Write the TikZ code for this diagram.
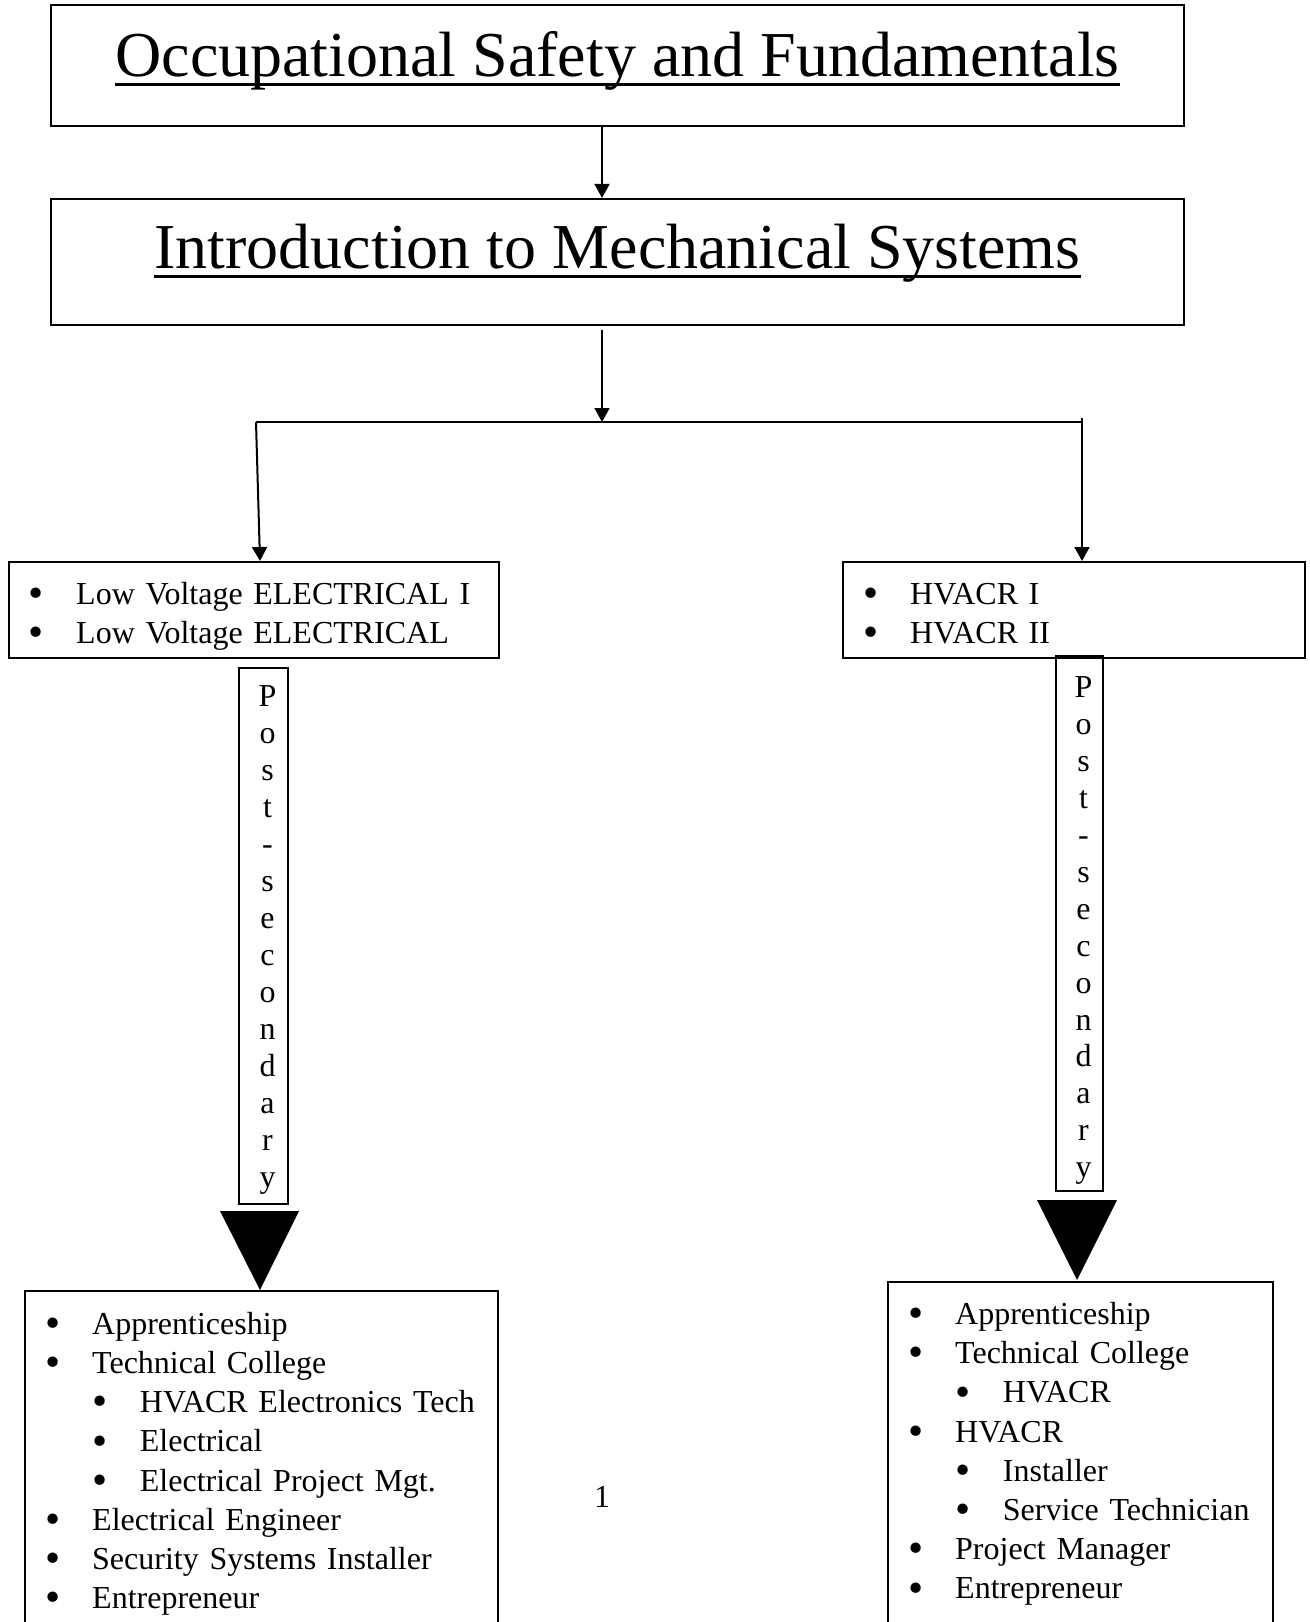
\documentclass[tikz,border=0pt]{standalone}
\usepackage{fontspec}
\setmainfont{Liberation Serif}
\usetikzlibrary{arrows.meta,positioning,calc}
\newcommand{\undrln}[1]{\setbox0\hbox{#1}\rlap{\rule[-3.4pt]{\wd0}{1pt}}\box0}
\newcommand{\bdot}{\raisebox{-1.2pt}{\scalebox{1.35}{\textbullet}}}
\newcommand{\bl}[1]{\makebox[25.2pt][l]{\hspace*{7.5pt}\bdot}#1}
\newcommand{\bll}[1]{\makebox[43.1pt][l]{\hspace*{25.3pt}\bdot}#1}
\newcommand{\vstack}[1]{\hspace*{3pt}\parbox[t]{8pt}{\centering #1}}
\tikzset{head/.style={draw, rectangle, minimum width=424.9pt, font=\fontsize{24}{28}\selectfont}}
\tikzstyle{lst}=[draw, rectangle, anchor=north west, inner sep=0pt, align=left, text height=15.9pt, font=\fontsize{12}{14.7}\selectfont]
\tikzstyle{vbar}=[draw, rectangle, inner sep=0pt, font=\fontsize{12}{13.85}\selectfont]

\begin{document}
\begin{tikzpicture}[x=0.375pt, y=-0.375pt, >={Triangle[length=5.25pt,width=5.6pt]}, line width=0.75pt, node distance=26.6pt]
\useasboundingbox (0,0) rectangle (1310,1622);
% course boxes
\node[head, minimum height=45.4pt, text height=17pt, text depth=8.4pt] (occ) at (617.5,65.5) {\undrln{Occupational Safety and Fundamentals}};
\node[head, minimum height=47.25pt, text height=17pt, text depth=12pt, below=of occ] (intro) {\undrln{Introduction to Mechanical Systems}};
\coordinate (hub) at (602,422);
\coordinate (lfork) at (256,422);
\coordinate (rfork) at (1082,418);
\node[lst, text width=183.75pt, text depth=20.1pt] (lowv) at (8,561) {\bl{Low Voltage ELECTRICAL I}\\\bl{Low Voltage ELECTRICAL}};
\node[lst, text width=173.25pt, text depth=20.1pt] (hvac) at (842,561) {\bl{HVACR I}\\\bl{HVACR II}};
% post-secondary bars
\node[vbar, minimum width=18.4pt, minimum height=201pt, text height=14.8pt, text depth=186.2pt] (ps1) at (263.5,935.5) {\vstack{P\\o\\s\\t\\-\\s\\e\\c\\o\\n\\d\\a\\r\\y}};
\node[vbar, minimum width=17.6pt, minimum height=200.6pt, text height=15.6pt, text depth=185pt] (ps2) at (1079.5,923.5) {\vstack{P\\o\\s\\t\\-\\s\\e\\c\\o\\n\\d\\a\\r\\y}};
% careers
\node[lst, text width=177.4pt, text height=16.24pt, text depth=109.8pt] (elecjobs) at (24,1290) {\bl{Apprenticeship}\\\bl{Technical College}\\\bll{HVACR Electronics Tech}\\\bll{Electrical}\\\bll{Electrical Project Mgt.}\\\bl{Electrical Engineer}\\\bl{Security Systems Installer}\\\bl{Entrepreneur}};
\node[lst, text width=144.4pt, text depth=113.5pt] (hvacjobs) at (887,1281) {\bl{Apprenticeship}\\\bl{Technical College}\\\bll{HVACR}\\\bl{HVACR}\\\bll{Installer}\\\bll{Service Technician}\\\bl{Project Manager}\\\bl{Entrepreneur}};
\node[font=\fontsize{12}{14}\selectfont] (pgnum) at (602,1497) {1};
% big arrows
\coordinate (ltip) at (260,1290);
\coordinate (rtip) at (1077,1280);
\fill (ltip) -- ++(-40,-79) -- ++(79,0) -- cycle;
\fill (rtip) -- ++(-40,-80) -- ++(80,0) -- cycle;

\draw (lfork) -- (rfork |- lfork);
\path[->](occ.south -| hub) edge (intro.north -| hub)
	(intro.south -| hub) edge[shorten <=1.5pt] (hub)
	(lfork) edge (ltip |- lowv.north)
	(rfork) edge (rfork |- hvac.north)
;
\end{tikzpicture}
\end{document}
